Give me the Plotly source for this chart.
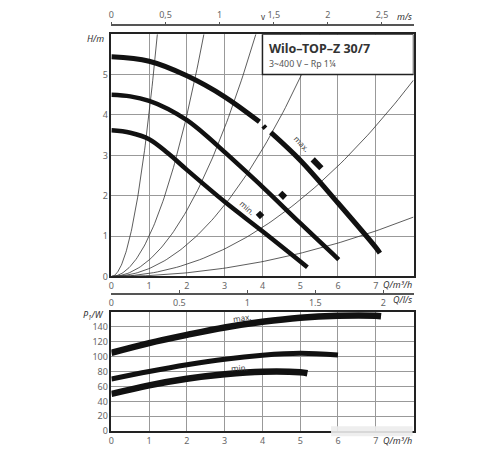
import plotly.graph_objects as go
import numpy as np

# ---------------- data ----------------
# pump curves H(Q), Q in m3/h, H in m
q_max_a = [0, 1, 2, 3, 3.92]
h_max_a = [5.44, 5.33, 4.97, 4.45, 3.83]
q_max_b = [4.22, 5, 6, 7, 7.11]
h_max_b = [3.57, 2.88, 1.82, 0.72, 0.58]
q_max_dash = [4.02, 4.08]
h_max_dash = [3.73, 3.67]
q_mid = [0, 0.5, 1, 1.5, 2, 2.5, 3, 4, 5, 6.02]
h_mid = [4.5, 4.46, 4.35, 4.15, 3.87, 3.5, 3.08, 2.22, 1.32, 0.42]
q_min = [0, 0.5, 1, 1.5, 2, 3, 4, 5.19]
h_min = [3.62, 3.56, 3.4, 3.05, 2.64, 1.85, 1.12, 0.23]

# small marks next to the curves
mark_q = [[5.33, 5.56], [4.47, 4.60], [3.88, 3.99]]
mark_h = [[2.90, 2.68], [2.07, 1.95], [1.58, 1.47]]

# system curves H = k*Q^2
k_sys = [4.05, 1.0, 0.41, 0.197, 0.076, 0.023]

# power curves P1(Q)
pq_max = [0, 1, 2, 3, 4, 5, 6, 7, 7.14]
p_max = [105, 118, 129, 139, 146.5, 152, 154.5, 154.5, 154]
pq_mid = [0, 1, 2, 3, 4, 5, 6]
p_mid = [70, 80, 89, 96.5, 101.7, 104.3, 102]
pq_min = [0, 1, 2, 3, 4, 5, 5.19]
p_min = [50, 61.5, 70.3, 76.3, 79.8, 79, 77.7]

q_ticks = [0, 1, 2, 3, 4, 5, 6, 7]
h_ticks = [0, 1, 2, 3, 4, 5]
p_ticks = [0, 20, 40, 60, 80, 100, 120, 140]
v_ticks = [0, 0.5, 1, 1.5, 2, 2.5]
v_text = ["0", "0,5", "1", "1,5", "2", "2,5"]
ls_ticks = [0, 0.5, 1, 1.5, 2]
ls_text = ["0", "0.5", "1", "1.5", "2"]
q_per_v = 2.866   # m3/h per m/s
q_per_ls = 3.6    # m3/h per l/s

# ---------------- figure ----------------
# page body has an 8px margin: the figure is offset by 8px
OFF = 8
W, H = 500 - OFF, 450 - OFF
def px(x):
    return (x - OFF) / W
def py(y):
    return 1 - (y - OFF) / H

FONT = "Noto Sans"
TICKC = "#666666"
thick = "#111111"

fig = go.Figure()

def curve(xs, ys, w, xa="x", ya="y"):
    fig.add_trace(go.Scatter(x=xs, y=ys, mode="lines", xaxis=xa, yaxis=ya,
                             line=dict(color=thick, width=w, shape="spline"),
                             hoverinfo="skip", showlegend=False))

# system curves
for k in k_sys:
    qend = min(8.0, np.sqrt(6.0 / k))
    qs = np.linspace(0, qend, 80)
    fig.add_trace(go.Scatter(x=qs, y=k * qs ** 2, mode="lines",
                             line=dict(color="#333333", width=0.8),
                             hoverinfo="skip", showlegend=False))

curve(q_max_a, h_max_a, 5)
curve(q_max_b, h_max_b, 5)
curve(q_max_dash, h_max_dash, 5)
curve(q_mid, h_mid, 4.5)
curve(q_min, h_min, 4.5)
for mq, mh in zip(mark_q, mark_h):
    fig.add_trace(go.Scatter(x=mq, y=mh, mode="lines",
                             line=dict(color=thick, width=6),
                             hoverinfo="skip", showlegend=False))

curve(pq_max, p_max, 6.5, "x2", "y2")
curve(pq_mid, p_mid, 5, "x2", "y2")
curve(pq_min, p_min, 6.5, "x2", "y2")

xdom = [px(109), px(413)]
grid = "#999999"
axis_common = dict(showgrid=True, gridcolor=grid, gridwidth=1, showline=True,
                   linecolor="#222222", linewidth=1.5, mirror=True, zeroline=False,
                   ticks="", tickfont=dict(family=FONT, size=9, color=TICKC))

fig.update_layout(
    width=W, height=H, margin=dict(l=0, r=0, t=0, b=0),
    paper_bgcolor="white", plot_bgcolor="white", showlegend=False,
    xaxis=dict(domain=xdom, range=[0, 8], tickvals=q_ticks, anchor="y",
               **axis_common),
    yaxis=dict(domain=[py(279), py(31.7)], range=[0, 6], tickvals=h_ticks,
               anchor="x", **axis_common),
    xaxis2=dict(domain=xdom, range=[0, 8], tickvals=q_ticks, anchor="y2",
                **axis_common),
    yaxis2=dict(domain=[py(437), py(315)], range=[0, 160], tickvals=p_ticks,
                anchor="x2", **axis_common),
    xaxis3=dict(domain=xdom, overlaying="x", side="top", anchor="free",
                position=py(22.7), range=[0, 8 / q_per_v], tickvals=v_ticks,
                ticktext=v_text, showgrid=False, showline=True, linecolor="#555555",
                linewidth=1.5, ticks="outside", ticklen=3, tickcolor="#555555",
                zeroline=False, tickfont=dict(family=FONT, size=9, color=TICKC)),
    xaxis4=dict(domain=xdom, overlaying="x2", side="bottom", anchor="free",
                position=py(297), range=[0, 8 / q_per_ls], tickvals=ls_ticks,
                ticktext=ls_text, showgrid=False, showline=True, linecolor="#555555",
                linewidth=1.5, ticks="inside", ticklen=3, tickcolor="#555555",
                zeroline=False, tickfont=dict(family=FONT, size=9, color=TICKC)),
)
# invisible traces so the overlay axes render
fig.add_trace(go.Scatter(x=[0], y=[0], xaxis="x3", yaxis="y", mode="markers",
                         marker=dict(opacity=0), hoverinfo="skip", showlegend=False))
fig.add_trace(go.Scatter(x=[0], y=[0], xaxis="x4", yaxis="y2", mode="markers",
                         marker=dict(opacity=0), hoverinfo="skip", showlegend=False))

# title box
fig.add_shape(type="rect", xref="x", yref="y", x0=4, x1=8, y0=5, y1=6,
              fillcolor="white", line=dict(color="#222222", width=1.5), layer="above")
# blurred watermark area
fig.add_shape(type="rect", xref="paper", yref="paper", x0=px(330), x1=px(412),
              y0=py(442), y1=py(432), fillcolor="rgba(236,236,236,0.9)",
              line=dict(width=0), layer="above")

def ann(text, x, y, size=9, color=TICKC, xanchor="center", italic=False,
        angle=0, bold=False, xref="paper", yref="paper"):
    t = text
    if italic:
        t = "<i>" + t + "</i>"
    if bold:
        t = "<b>" + t + "</b>"
    fig.add_annotation(text=t, x=x, y=y, xref=xref, yref=yref, showarrow=False,
                       xanchor=xanchor, yanchor="middle", textangle=angle,
                       font=dict(family=FONT, size=size, color=color))

ann("Wilo–TOP–Z 30/7", px(266), py(46), size=12.5, color="#333333", xanchor="left", bold=True)
ann("3~400 V – Rp 1¼", px(266), py(62), size=8.8, color="#555555", xanchor="left")
ann("H/m", px(104), py(36), size=9, color="#333333", xanchor="right", italic=True)
ann("P<sub>1</sub>/W", px(104), py(318), size=9, color="#333333", xanchor="right", italic=True)
ann("v", px(262), py(14), size=8, color="#333333")
ann("m/s", px(413), py(14), size=9, color="#333333", xanchor="right", italic=True)
ann("Q/m³/h", px(413), py(287), size=9, color="#333333", xanchor="right", italic=True)
ann("Q/l/s", px(413), py(303), size=9, color="#333333", xanchor="right", italic=True)
ann("Q/m³/h", px(413), py(446), size=9, color="#333333", xanchor="right", italic=True)
ann("max.", 5.05, 3.3, size=8, color="#444444", angle=47, xref="x", yref="y")
ann("min.", 3.6, 1.7, size=8, color="#444444", angle=42, xref="x", yref="y")
ann("max.", 3.45, 152, size=8, color="#444444", angle=-8, xref="x2", yref="y2")
ann("min.", 3.4, 86, size=8, color="#444444", angle=-4, xref="x2", yref="y2")

fig.write_html("out.html")
